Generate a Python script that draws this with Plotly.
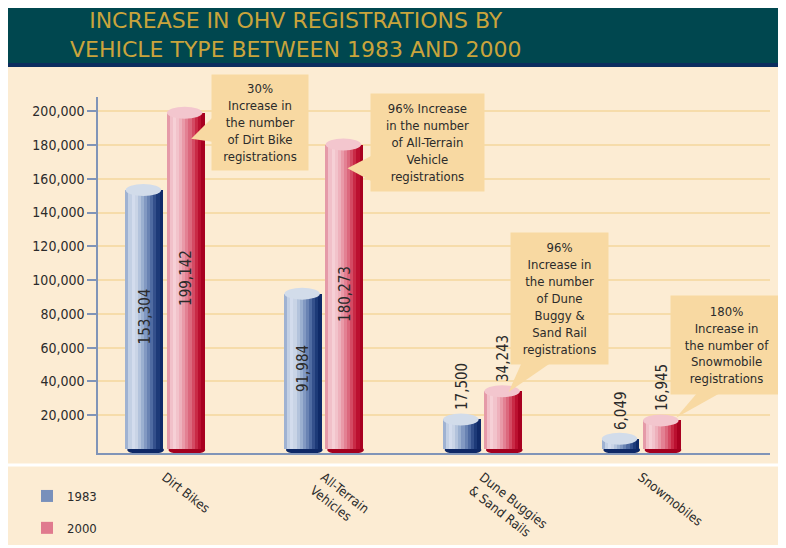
import plotly.graph_objects as go

# ---------------- data ----------------
categories = ["Dirt Bikes", "All-Terrain<br>Vehicles", "Dune Buggies<br>& Sand Rails", "Snowmobiles"]
series_names = ["1983", "2000"]
values_1983 = [153304, 91984, 17500, 6049]
values_2000 = [199142, 180273, 34243, 16945]
y_ticks = [20000, 40000, 60000, 80000, 100000, 120000, 140000, 160000, 180000, 200000]
y_tick_labels = ["20,000", "40,000", "60,000", "80,000", "100,000",
                 "120,000", "140,000", "160,000", "180,000", "200,000"]
callout_texts = [
    "30%<br>Increase in<br>the number<br>of Dirt Bike<br>registrations",
    "96% Increase<br>in the number<br>of All-Terrain<br>Vehicle<br>registrations",
    "96%<br>Increase in<br>the number<br>of Dune<br>Buggy &<br>Sand Rail<br>registrations",
    "180%<br>Increase in<br>the number of<br>Snowmobile<br>registrations",
]
title_text = "INCREASE IN OHV REGISTRATIONS BY<br>VEHICLE TYPE BETWEEN 1983 AND 2000"

# ---------------- style / geometry (pixel values in window coordinates) ----------------
PAGE_OFF = 8                      # page body margin
WIN_W, WIN_H = 786, 548
W, H = WIN_W - PAGE_OFF, WIN_H - PAGE_OFF
PL, PR, PT, PB = 98, 770, 97, 453
X_RANGE = [-0.422, 3.812]
Y_RANGE = [-2370, 208400]
BAR_W = 0.235
OFFSETS = [-0.13, 0.13]
FONT = "DejaVu Sans Condensed, Liberation Sans Narrow, Arial Narrow, sans-serif"
TITLE_FONT = "DejaVu Sans, sans-serif"
TXT = "#2b2b2b"
CREAM = "#fcecd3"
TAN = "#f8d9a2"
GRID = "#f6dcaa"
AXIS = "#8094b8"

profiles = [
    ["#9fb2d2", "#c3d0e4", "#d3dced", "#c9d4e6", "#b3c3dc", "#9bb0d0",
     "#8299c2", "#6983b3", "#4f6ba2", "#34508c", "#1d3a78", "#0f2a68"],
    ["#e59aa8", "#f1c0c9", "#f6d0d6", "#f2c3cb", "#eeb1bc", "#e99aa8",
     "#e38193", "#dc687d", "#d44a63", "#c92a46", "#bb1030", "#a80020"],
]
cap_colors = ["#d2dcea", "#f3c6ce"]
base_colors = ["#0e2866", "#a3001e"]
legend_colors = ["#7890bb", "#e07a8e"]

callout_boxes = [(213, 76, 307, 169), (372, 95, 483, 190), (512, 234, 607, 363), (672, 297, 782, 393)]
pointer_bases = [[(214, 116), (214, 142)], [(373, 155), (373, 182)],
                 [(522, 362), (552, 362)], [(698, 392), (722, 392)]]
pointer_tip_offsets = [(0.035, -15500), (0.02, -14000), (0.035, -500), (0.09, 1500)]
title_center = (295, 35)


def paper_x(px):
    return (px - PL) / (PR - PL)


def paper_y(py):
    return (PB - py) / (PB - PT)


def data_x(px):
    return X_RANGE[0] + (px - PL) / (PR - PL) * (X_RANGE[1] - X_RANGE[0])


def data_y(py):
    return Y_RANGE[0] + (PB - py) / (PB - PT) * (Y_RANGE[1] - Y_RANGE[0])


units_per_px = (Y_RANGE[1] - Y_RANGE[0]) / (PB - PT)
CAP = 6 * units_per_px

fig = go.Figure()
series_values = [values_1983, values_2000]
idx = list(range(len(categories)))
n = len(profiles[0])
sw = BAR_W / n

for s, vals in enumerate(series_values):
    for k, col in enumerate(profiles[s]):
        xs = [i + OFFSETS[s] - BAR_W / 2 + (k + 0.5) * sw for i in idx]
        fig.add_trace(go.Bar(
            x=xs, y=vals, width=sw * 1.2, marker=dict(color=col, line=dict(width=0)),
            showlegend=False, hoverinfo="skip",
        ))
    fig.add_trace(go.Bar(
        x=[None], y=[None], name=series_names[s],
        marker=dict(color=legend_colors[s], line=dict(width=0)),
        legendgroup=series_names[s], showlegend=True,
    ))

# value labels
for s, vals in enumerate(series_values):
    fig.add_trace(go.Bar(
        x=[i + OFFSETS[s] for i in idx], y=[v + CAP for v in vals], width=BAR_W,
        marker=dict(color="rgba(0,0,0,0)", line=dict(width=0)),
        text=[f"{v:,}" for v in vals],
        textposition=["inside" if v > 50000 else "outside" for v in vals],
        insidetextanchor="middle", textangle=-90, constraintext="none",
        textfont=dict(family=FONT, size=15, color=TXT),
        cliponaxis=False, showlegend=False, hoverinfo="skip",
    ))

shapes = []
shapes.append(dict(type="rect", xref="paper", yref="paper", layer="below",
                   x0=paper_x(5), x1=paper_x(783), y0=paper_y(5), y1=paper_y(545),
                   fillcolor=CREAM, line=dict(width=0)))
shapes.append(dict(type="rect", xref="paper", yref="paper", layer="below",
                   x0=paper_x(5), x1=paper_x(790), y0=paper_y(6), y1=paper_y(63),
                   fillcolor="#00474f", line=dict(width=0)))
shapes.append(dict(type="rect", xref="paper", yref="paper", layer="below",
                   x0=paper_x(5), x1=paper_x(790), y0=paper_y(63), y1=paper_y(67),
                   fillcolor="#0b2d5e", line=dict(width=0)))
shapes.append(dict(type="line", xref="paper", yref="paper", layer="above",
                   x0=paper_x(5), x1=paper_x(783), y0=paper_y(465), y1=paper_y(465),
                   line=dict(color="white", width=3)))

for s, vals in enumerate(series_values):
    for i, v in zip(idx, vals):
        c = i + OFFSETS[s]
        shapes.append(dict(type="circle", xref="x", yref="y", layer="between",
                           x0=c - BAR_W / 2 + sw * 0.5, x1=c + BAR_W / 2 + sw * 0.3,
                           y0=-CAP * 0.9, y1=CAP * 0.6,
                           fillcolor=base_colors[s], line=dict(width=0)))
        shapes.append(dict(type="circle", xref="x", yref="y", layer="above",
                           x0=c - BAR_W / 2, x1=c + BAR_W / 2 - sw * 0.6,
                           y0=v - CAP, y1=v + CAP,
                           fillcolor=cap_colors[s], line=dict(width=0)))

for i, (base, off) in enumerate(zip(pointer_bases, pointer_tip_offsets)):
    tx = i + OFFSETS[1] + off[0]
    ty = values_2000[i] + off[1]
    (x1, y1), (x2, y2) = base
    path = f"M {data_x(x1)},{data_y(y1)} L {tx},{ty} L {data_x(x2)},{data_y(y2)} Z"
    shapes.append(dict(type="path", xref="x", yref="y", layer="above", path=path,
                       fillcolor=TAN, line=dict(width=0)))

annotations = []
for text, (x0, y0, x1, y1) in zip(callout_texts, callout_boxes):
    annotations.append(dict(
        xref="paper", yref="paper", x=paper_x((x0 + x1) / 2), y=paper_y((y0 + y1) / 2),
        xanchor="center", yanchor="middle", width=x1 - x0, height=y1 - y0,
        text=text, showarrow=False, bgcolor=TAN, align="center", valign="middle",
        font=dict(family=FONT, size=13, color=TXT),
    ))
annotations.append(dict(
    xref="paper", yref="paper", x=paper_x(title_center[0]), y=paper_y(title_center[1]),
    xanchor="center", yanchor="middle", text=title_text, showarrow=False, align="center",
    font=dict(family=TITLE_FONT, size=22, color="#c9a43c"),
))

fig.update_layout(
    width=W, height=H,
    margin=dict(l=PL - PAGE_OFF, r=WIN_W - PR, t=PT - PAGE_OFF, b=H + PAGE_OFF - PB,
                pad=0, autoexpand=False),
    paper_bgcolor="white", plot_bgcolor="rgba(0,0,0,0)",
    barmode="overlay", bargap=0,
    xaxis=dict(range=X_RANGE, tickvals=idx, ticktext=categories, tickangle=38,
               showgrid=False, zeroline=False, showline=True, linecolor=AXIS, linewidth=1.5,
               ticks="", ticklabelstandoff=10, automargin=False,
               tickfont=dict(family=FONT, size=13, color=TXT)),
    yaxis=dict(range=Y_RANGE, tickvals=y_ticks, ticktext=y_tick_labels,
               showgrid=True, gridcolor=GRID, gridwidth=1.5, zeroline=False,
               showline=True, linecolor=AXIS, linewidth=1.5, automargin=False,
               ticks="outside", ticklen=9, tickcolor=AXIS, tickwidth=1.5,
               tickfont=dict(family=FONT, size=14, color=TXT)),
    legend=dict(x=paper_x(27), y=paper_y(481), xanchor="left", yanchor="top",
                bgcolor="rgba(0,0,0,0)", tracegroupgap=12,
                font=dict(family=FONT, size=13, color=TXT)),
    shapes=shapes, annotations=annotations,
)

fig.write_html("out.html")
